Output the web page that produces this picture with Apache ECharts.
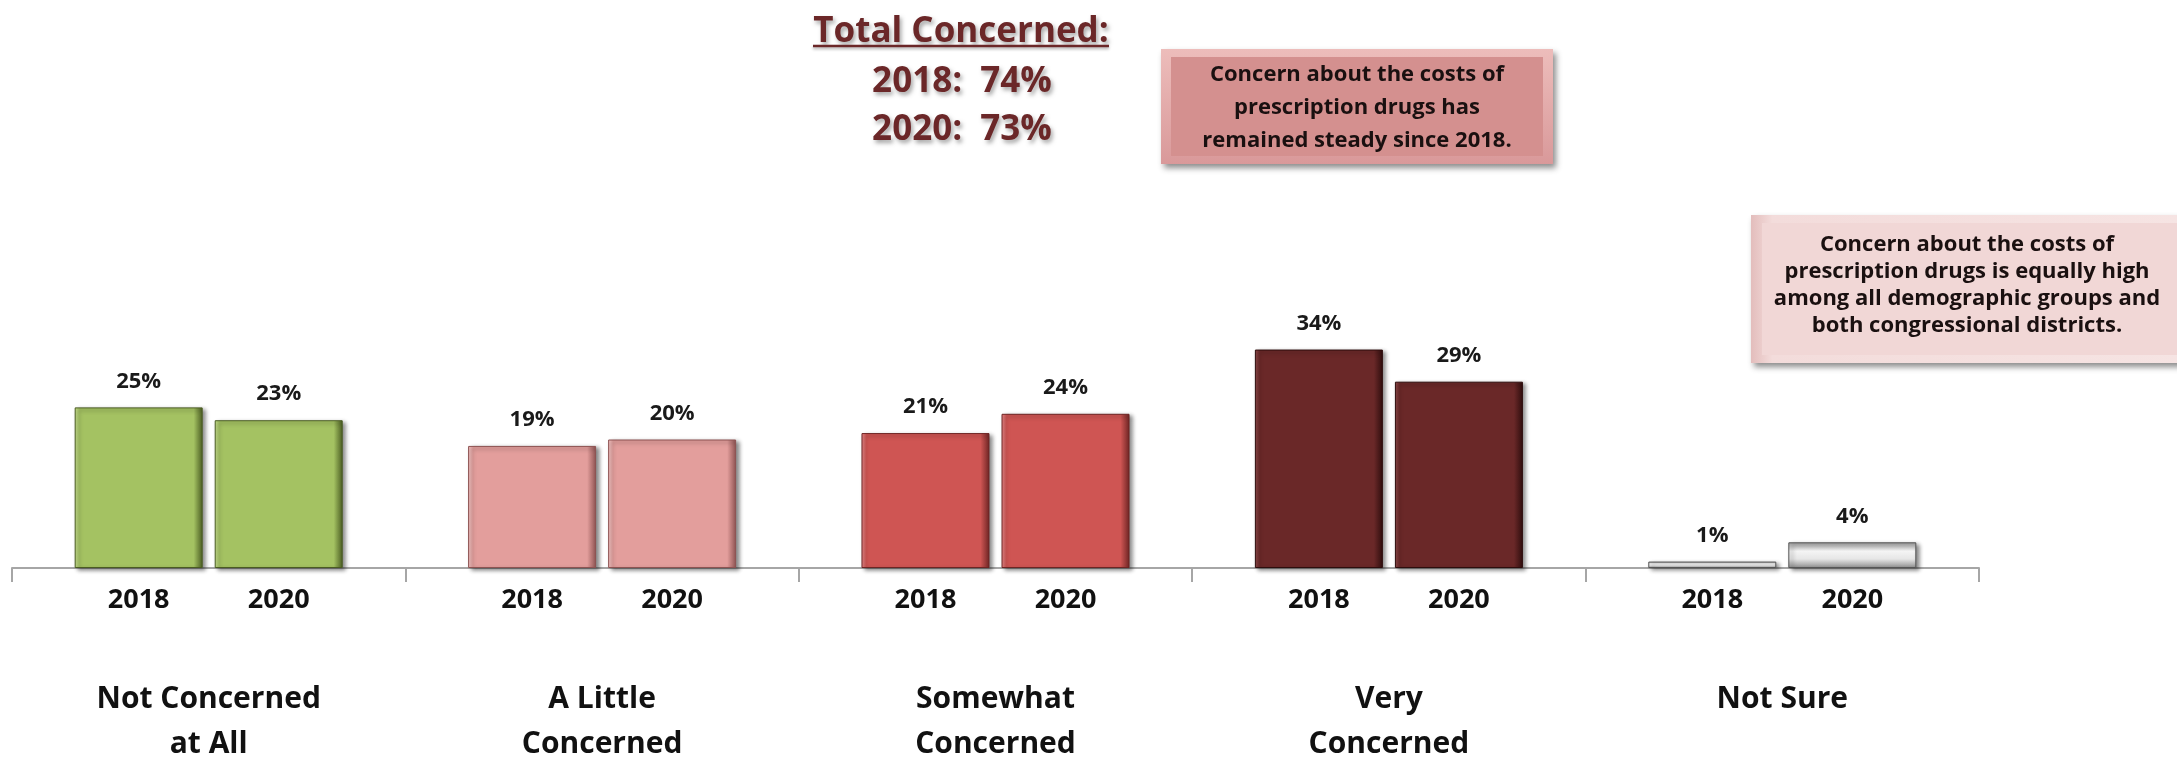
<!DOCTYPE html>
<html>
<head>
<meta charset="utf-8">
<script src="https://cdn.jsdelivr.net/npm/echarts@6/dist/echarts.min.js"></script>
<style>
  html, body { margin: 0; padding: 0; background: #ffffff; }
  #chart { width: 2177px; height: 757px; }
</style>
</head>
<body>
<div id="chart"></div>
<script>
// ---- data ----
const categories = ['Not Concerned\nat All', 'A Little\nConcerned', 'Somewhat\nConcerned', 'Very\nConcerned', 'Not Sure'];
const years = ['2018', '2020'];
const values2018 = [25, 19, 21, 34, 1];
const values2020 = [23, 20, 24, 29, 4];
const titleText = 'Total Concerned:';
const totalLines = ['2018:  74%', '2020:  73%'];
const note1 = 'Concern about the costs of\nprescription drugs has\nremained steady since 2018.';
const note2 = 'Concern about the costs of\nprescription drugs is equally high\namong all demographic groups and\nboth congressional districts.';

// ---- styles ----
const FONT = '"Open Sans", "Noto Sans", sans-serif';
const palette = [
  { light: '#C6DE8E', base: '#A4C262', dark: '#4A5C22' },
  { light: '#F3C6C5', base: '#E39E9C', dark: '#8E5352' },
  { light: '#E8898A', base: '#CF5553', dark: '#6E2524' },
  { light: '#8E4A4A', base: '#6A2828', dark: '#2E0D0D' },
  { gray: true }
];

function barFill(i) {
  const p = palette[i];
  if (p.gray) {
    return new echarts.graphic.LinearGradient(0, 0, 0, 1, [
      { offset: 0, color: '#9C9C9C' },
      { offset: 0.35, color: '#F4F4F4' },
      { offset: 0.65, color: '#E6E6E6' },
      { offset: 1, color: '#8E8E8E' }
    ]);
  }
  return new echarts.graphic.LinearGradient(0, 0, 1, 0, [
    { offset: 0, color: p.light },
    { offset: 0.04, color: p.base },
    { offset: 0.93, color: p.base },
    { offset: 1, color: p.dark }
  ]);
}
function barBorder(i) {
  const p = palette[i];
  return p.gray ? '#555555' : p.dark;
}

function barData(values) {
  return values.map((v, i) => ({
    value: v,
    itemStyle: {
      color: barFill(i),
      borderColor: barBorder(i),
      borderWidth: 1,
      shadowColor: 'rgba(0,0,0,0.45)',
      shadowBlur: 4,
      shadowOffsetX: 3,
      shadowOffsetY: 2
    }
  }));
}

const valueLabel = {
  show: true,
  position: 'top',
  distance: 15,
  formatter: (p) => p.value + '%',
  fontFamily: FONT,
  fontWeight: 'bold',
  fontSize: 22,
  lineHeight: 22,
  color: '#1a1a1a'
};
function yearLabel(y) {
  return {
    show: true,
    position: 'bottom',
    distance: 18,
    formatter: y,
    fontFamily: FONT,
    fontWeight: 'bold',
    fontSize: 27,
    lineHeight: 28,
    color: '#111111'
  };
}

const gridGeom = { left: 12, right: 198, top: 311, bottom: 189, containLabel: false, outerBoundsMode: 'none' };

const option = {
  backgroundColor: '#ffffff',
  animation: false,
  grid: [
    Object.assign({}, gridGeom),
    Object.assign({}, gridGeom)
  ],
  xAxis: [
    {
      type: 'category', gridIndex: 0, data: categories,
      axisLine: { lineStyle: { color: '#A6A6A6', width: 2 } },
      axisTick: { show: true, length: 14, lineStyle: { color: '#A6A6A6', width: 2 } },
      axisLabel: {
        margin: 109, fontFamily: FONT, fontWeight: 'bold', fontSize: 30, lineHeight: 45,
        color: '#111111', interval: 0
      }
    },
    {
      type: 'category', gridIndex: 1, data: categories, show: false
    }
  ],
  yAxis: [
    { type: 'value', gridIndex: 0, min: 0, max: 40, show: false, splitLine: { show: false } },
    { type: 'value', gridIndex: 1, min: 0, max: 40, show: false, splitLine: { show: false } }
  ],
  series: [
    {
      name: years[0], type: 'bar', xAxisIndex: 0, yAxisIndex: 0,
      barWidth: 128, barGap: '9.4%',
      data: barData(values2018), label: valueLabel
    },
    {
      name: years[1], type: 'bar', xAxisIndex: 0, yAxisIndex: 0,
      barWidth: 128, barGap: '9.4%',
      data: barData(values2020), label: valueLabel
    },
    {
      name: years[0] + ' label', type: 'bar', xAxisIndex: 1, yAxisIndex: 1,
      barWidth: 128, barGap: '9.4%', silent: true,
      itemStyle: { color: 'rgba(0,0,0,0)' },
      data: values2018, label: yearLabel(years[0])
    },
    {
      name: years[1] + ' label', type: 'bar', xAxisIndex: 1, yAxisIndex: 1,
      barWidth: 128, barGap: '9.4%', silent: true,
      itemStyle: { color: 'rgba(0,0,0,0)' },
      data: values2020, label: yearLabel(years[1])
    }
  ],
  graphic: [
    // Title block
    {
      type: 'text', x: 961, y: 32, z: 10,
      style: {
        text: titleText, align: 'center', verticalAlign: 'middle',
        fontFamily: FONT, fontWeight: 'bold', fontSize: 35, fill: '#6B2728',
        textShadowColor: 'rgba(0,0,0,0.35)', textShadowBlur: 4, textShadowOffsetX: 2, textShadowOffsetY: 3
      }
    },
    {
      type: 'line', z: 10,
      shape: { x1: 813, y1: 46, x2: 1109, y2: 46 },
      style: { stroke: '#6B2728', lineWidth: 2.5, shadowColor: 'rgba(0,0,0,0.3)', shadowBlur: 3, shadowOffsetY: 2 }
    },
    {
      type: 'text', x: 962, y: 82, z: 10,
      style: {
        text: totalLines[0], align: 'center', verticalAlign: 'middle',
        fontFamily: FONT, fontWeight: 'bold', fontSize: 35, fill: '#6B2728',
        textShadowColor: 'rgba(0,0,0,0.35)', textShadowBlur: 4, textShadowOffsetX: 2, textShadowOffsetY: 3
      }
    },
    {
      type: 'text', x: 962, y: 130, z: 10,
      style: {
        text: totalLines[1], align: 'center', verticalAlign: 'middle',
        fontFamily: FONT, fontWeight: 'bold', fontSize: 35, fill: '#6B2728',
        textShadowColor: 'rgba(0,0,0,0.35)', textShadowBlur: 4, textShadowOffsetX: 2, textShadowOffsetY: 3
      }
    },
    // Note box 1
    {
      type: 'rect', z: 5,
      shape: { x: 1161, y: 49, width: 392, height: 115 },
      style: {
        fill: new echarts.graphic.LinearGradient(0, 0, 0, 1, [
          { offset: 0, color: '#EDBDBB' }, { offset: 1, color: '#D9999A' }
        ]),
        shadowColor: 'rgba(0,0,0,0.45)', shadowBlur: 6, shadowOffsetX: 3, shadowOffsetY: 4
      }
    },
    {
      type: 'rect', z: 6,
      shape: { x: 1171, y: 57, width: 372, height: 99 },
      style: { fill: '#D4908F' }
    },
    {
      type: 'text', x: 1357, y: 108, z: 7,
      style: {
        text: note1, align: 'center', verticalAlign: 'middle',
        fontFamily: FONT, fontWeight: 'bold', fontSize: 22, lineHeight: 33, fill: '#1a1010'
      }
    },
    // Note box 2
    {
      type: 'rect', z: 5,
      shape: { x: 1751, y: 215, width: 430, height: 148 },
      style: {
        fill: new echarts.graphic.LinearGradient(0, 0, 1, 0, [
          { offset: 0, color: '#E3BDBC' }, { offset: 0.05, color: '#F3DCDB' }, { offset: 1, color: '#F6E4E3' }
        ]),
        shadowColor: 'rgba(0,0,0,0.45)', shadowBlur: 6, shadowOffsetX: 3, shadowOffsetY: 4
      }
    },
    {
      type: 'rect', z: 6,
      shape: { x: 1762, y: 223, width: 420, height: 132 },
      style: { fill: '#F1D7D6' }
    },
    {
      type: 'text', x: 1967, y: 285, z: 7,
      style: {
        text: note2, align: 'center', verticalAlign: 'middle',
        fontFamily: FONT, fontWeight: 'bold', fontSize: 22, lineHeight: 27, fill: '#1a1010'
      }
    }
  ]
};

const chart = echarts.init(document.getElementById('chart'), null, { renderer: 'canvas' });
chart.setOption(option);
</script>
</body>
</html>
